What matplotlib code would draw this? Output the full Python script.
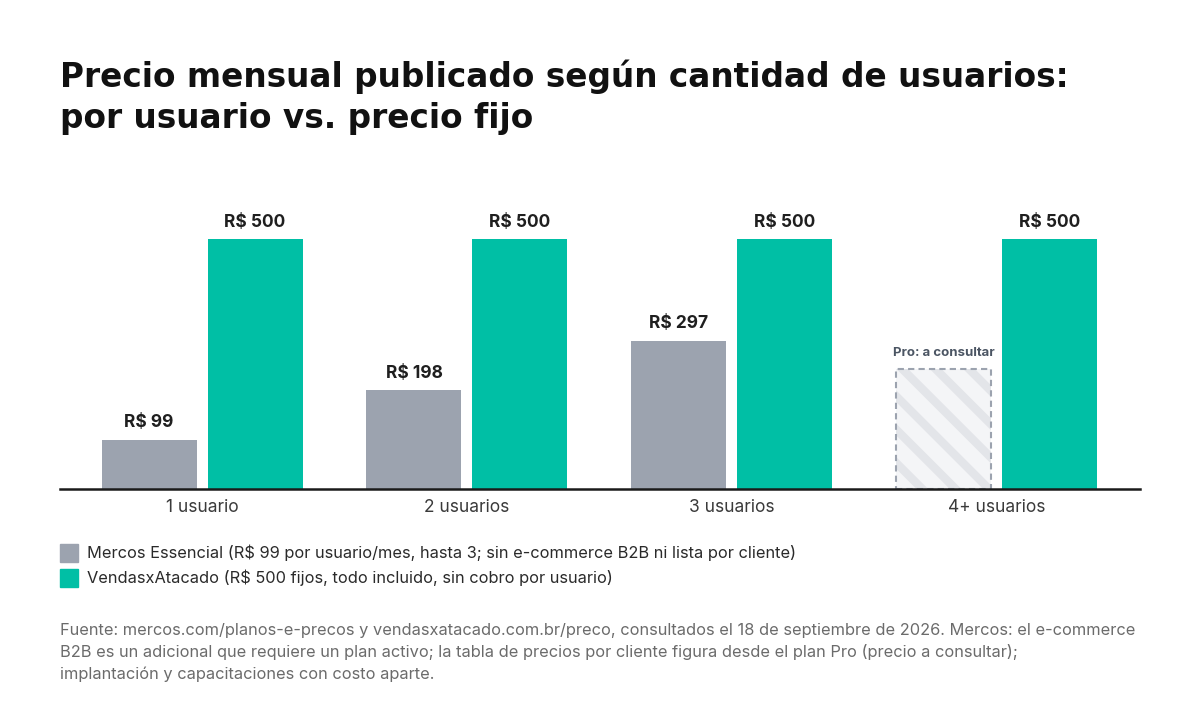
import matplotlib.pyplot as plt
import numpy as np

plt.rcParams['font.family'] = ['Inter', 'DejaVu Sans']
plt.rcParams['hatch.linewidth'] = 6

categories = ["1 usuario", "2 usuarios", "3 usuarios", "4+ usuarios"]
mercos = [99, 198, 297]
mercos_labels = ["R$ 99", "R$ 198", "R$ 297"]
placeholder = 240
placeholder_label = "Pro: a consultar"
vendas = [500, 500, 500, 500]
vendas_labels = ["R$ 500", "R$ 500", "R$ 500", "R$ 500"]
legend_labels = [
    "Mercos Essencial (R$ 99 por usuario/mes, hasta 3; sin e-commerce B2B ni lista por cliente)",
    "VendasxAtacado (R$ 500 fijos, todo incluido, sin cobro por usuario)",
]
title = "Precio mensual publicado según cantidad de usuarios:\npor usuario vs. precio fijo"
footer = ("Fuente: mercos.com/planos-e-precos y vendasxatacado.com.br/preco, consultados el 18 de septiembre de 2026. Mercos: el e-commerce\n"
          "B2B es un adicional que requiere un plan activo; la tabla de precios por cliente figura desde el plan Pro (precio a consultar);\n"
          "implantación y capacitaciones con costo aparte.")

GRAY = "#9CA3AF"
TEAL = "#00BFA5"

fig = plt.figure(figsize=(12, 7.2), dpi=100)
ax = fig.add_axes([0.05, 0.3208, 0.90, 0.4014])

x = np.arange(len(categories))
w = 0.3585
off = 0.2

ax.bar(x[:3] - off, mercos, width=w, color=GRAY)
ax.bar(x + off, vendas, width=w, color=TEAL)
# placeholder bar for 4+ users
ax.bar(x[3] - off, placeholder, width=w, color="#F4F5F7", edgecolor="#E3E5E9", linewidth=0, hatch="\\")
ax.bar(x[3] - off, placeholder, width=w, fill=False, edgecolor="#9CA3AF", linewidth=1.5, linestyle=(0, (3, 2)))

for i, (v, lab) in enumerate(zip(mercos, mercos_labels)):
    ax.annotate(lab, (x[i] - off, v), xytext=(0, 6), textcoords="offset points",
                ha="center", va="bottom", fontsize=12.5, fontweight="bold", color="#1F1F1F")
for i, (v, lab) in enumerate(zip(vendas, vendas_labels)):
    ax.annotate(lab, (x[i] + off, v), xytext=(0, 6), textcoords="offset points",
                ha="center", va="bottom", fontsize=12.5, fontweight="bold", color="#1F1F1F")
ax.annotate(placeholder_label, (x[3] - off, placeholder), xytext=(0, 7), textcoords="offset points",
            ha="center", va="bottom", fontsize=9.5, fontweight="bold", color="#4B5563")

ax.set_xlim(-0.536, 3.54)
ax.set_ylim(0, 578)
for s in ["top", "right", "left"]:
    ax.spines[s].set_visible(False)
ax.spines["bottom"].set_linewidth(1.8)
ax.spines["bottom"].set_color("#1A1A1A")
ax.set_yticks([])
ax.set_xticks(x)
ax.set_xticklabels(categories, fontsize=12.5, color="#3A3A3A")
ax.tick_params(axis="x", length=0, pad=7)

fig.text(0.05, 1 - 60 / 720, title, fontsize=23.6, fontweight="bold", color="#111111",
         ha="left", va="top", linespacing=1.3, family=["DejaVu Sans"])

# legend
for k, (lab, c) in enumerate(zip(legend_labels, [GRAY, TEAL])):
    yc = 1 - (553 + 25 * k) / 720
    fig.patches.append(plt.Rectangle((60 / 1200, yc - 9 / 720), 18 / 1200, 18 / 720,
                                     transform=fig.transFigure, color=c, figure=fig))
    fig.text(87 / 1200, yc, lab, fontsize=11.8, color="#2A2A2A", ha="left", va="center")

fig.text(0.05, 1 - 623 / 720, footer, fontsize=11.8, color="#6B6B6B", ha="left", va="top",
         linespacing=1.5)

plt.savefig("out.png", dpi=100, facecolor="white")
